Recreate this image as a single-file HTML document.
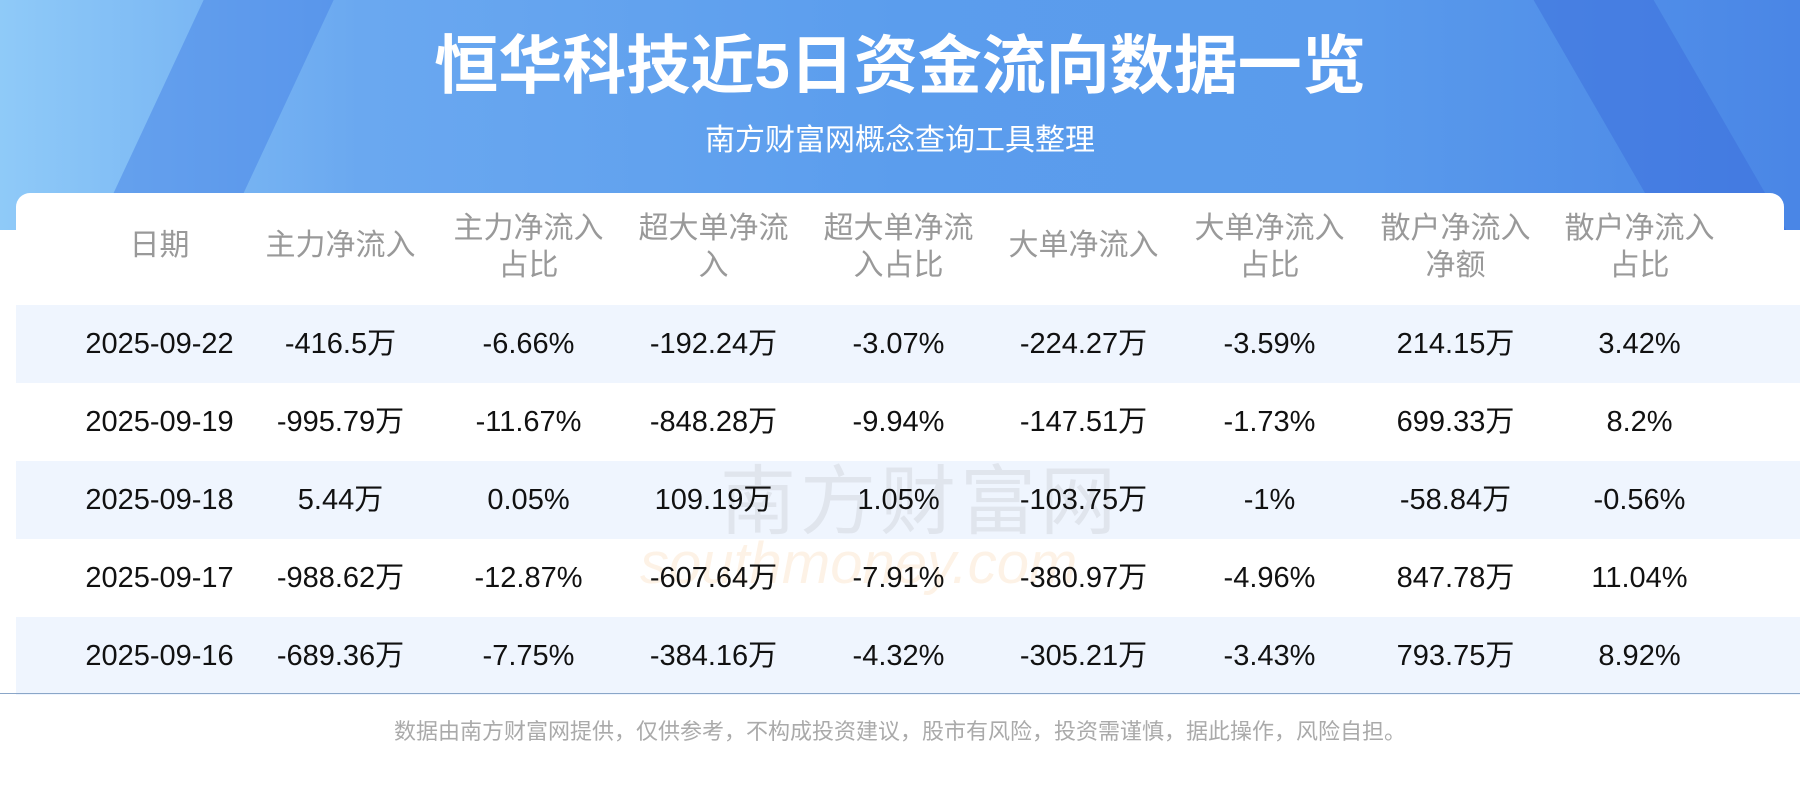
<!DOCTYPE html>
<html><head><meta charset="utf-8"><style>
body{margin:0;width:1800px;height:800px;overflow:hidden;position:relative;background:#fff;font-family:"Liberation Sans","Noto Sans CJK SC",sans-serif}
.top{position:absolute;left:0;top:0;width:1800px;height:230px;background:linear-gradient(90deg,#8fcaf8 0%,#6aa8f0 20%,#5b9ded 50%,#5a9bec 75%,#4a86e6 100%)}
.sh1{position:absolute;left:150px;top:0;width:130px;height:230px;background:rgba(70,130,230,.5);transform:skewX(-25deg)}
.sh2{position:absolute;left:1600px;top:0;width:120px;height:230px;background:rgba(60,110,220,.5);transform:skewX(30deg)}
h1{position:absolute;left:0;width:1800px;top:26px;margin:0;text-align:center;color:#fff;font-size:64px;font-weight:bold;line-height:80px}
.sub{position:absolute;left:0;width:1800px;top:123px;text-align:center;color:#fff;font-size:30px;line-height:36px}
.card{position:absolute;left:16px;top:193px;width:1768px;height:500px;background:#fff;border-radius:14px 14px 0 0}
.hd{position:absolute;top:210px;color:#999;font-size:30px;line-height:37px;text-align:center;width:185px}
.row{position:absolute;left:16px;width:1784px;height:78px}
.c{position:absolute;width:185px;text-align:center;font-size:29px;color:#111;line-height:78px}
.line{position:absolute;left:0;top:693px;width:1800px;height:1px;background:#8aa6c8}
.foot{position:absolute;left:0;width:1800px;top:714px;text-align:center;color:#aaa;font-size:22px}
.wm{position:absolute;left:720px;top:440px;font-size:76px;color:rgba(120,120,120,.13);letter-spacing:4px}
.wm2{position:absolute;left:640px;top:530px;font-size:58px;color:rgba(240,170,90,.15);font-style:italic}
</style></head><body>
<div class="top"><div class="sh1"></div><div class="sh2"></div></div>
<h1>恒华科技近5日资金流向数据一览</h1>
<div class="sub">南方财富网概念查询工具整理</div>
<div class="card"></div>
<div class="hd" style="left:67px;top:227px">日期</div>
<div class="hd" style="left:248px;top:227px">主力净流入</div>
<div class="hd" style="left:436px">主力净流入<br>占比</div>
<div class="hd" style="left:621px">超大单净流<br>入</div>
<div class="hd" style="left:806px">超大单净流<br>入占比</div>
<div class="hd" style="left:991px;top:227px">大单净流入</div>
<div class="hd" style="left:1177px">大单净流入<br>占比</div>
<div class="hd" style="left:1363px">散户净流入<br>净额</div>
<div class="hd" style="left:1547px">散户净流入<br>占比</div>
<div class="row" style="top:305px;background:#eff5fe"></div>
<div class="row" style="top:461px;background:#eff5fe"></div>
<div class="row" style="top:617px;background:#eff5fe"></div>
<div class="wm">南方财富网</div>
<div class="wm2">southmoney.com</div>
<div style="position:absolute;left:0;top:305px;width:1800px">
<div style="position:relative;height:78px"><div class="c" style="left:67px">2025-09-22</div><div class="c" style="left:248px">-416.5万</div><div class="c" style="left:436px">-6.66%</div><div class="c" style="left:621px">-192.24万</div><div class="c" style="left:806px">-3.07%</div><div class="c" style="left:991px">-224.27万</div><div class="c" style="left:1177px">-3.59%</div><div class="c" style="left:1363px">214.15万</div><div class="c" style="left:1547px">3.42%</div></div>
<div style="position:relative;height:78px"><div class="c" style="left:67px">2025-09-19</div><div class="c" style="left:248px">-995.79万</div><div class="c" style="left:436px">-11.67%</div><div class="c" style="left:621px">-848.28万</div><div class="c" style="left:806px">-9.94%</div><div class="c" style="left:991px">-147.51万</div><div class="c" style="left:1177px">-1.73%</div><div class="c" style="left:1363px">699.33万</div><div class="c" style="left:1547px">8.2%</div></div>
<div style="position:relative;height:78px"><div class="c" style="left:67px">2025-09-18</div><div class="c" style="left:248px">5.44万</div><div class="c" style="left:436px">0.05%</div><div class="c" style="left:621px">109.19万</div><div class="c" style="left:806px">1.05%</div><div class="c" style="left:991px">-103.75万</div><div class="c" style="left:1177px">-1%</div><div class="c" style="left:1363px">-58.84万</div><div class="c" style="left:1547px">-0.56%</div></div>
<div style="position:relative;height:78px"><div class="c" style="left:67px">2025-09-17</div><div class="c" style="left:248px">-988.62万</div><div class="c" style="left:436px">-12.87%</div><div class="c" style="left:621px">-607.64万</div><div class="c" style="left:806px">-7.91%</div><div class="c" style="left:991px">-380.97万</div><div class="c" style="left:1177px">-4.96%</div><div class="c" style="left:1363px">847.78万</div><div class="c" style="left:1547px">11.04%</div></div>
<div style="position:relative;height:78px"><div class="c" style="left:67px">2025-09-16</div><div class="c" style="left:248px">-689.36万</div><div class="c" style="left:436px">-7.75%</div><div class="c" style="left:621px">-384.16万</div><div class="c" style="left:806px">-4.32%</div><div class="c" style="left:991px">-305.21万</div><div class="c" style="left:1177px">-3.43%</div><div class="c" style="left:1363px">793.75万</div><div class="c" style="left:1547px">8.92%</div></div>
</div>
<div class="line"></div>
<div class="foot">数据由南方财富网提供，仅供参考，不构成投资建议，股市有风险，投资需谨慎，据此操作，风险自担。</div>
</body></html>
